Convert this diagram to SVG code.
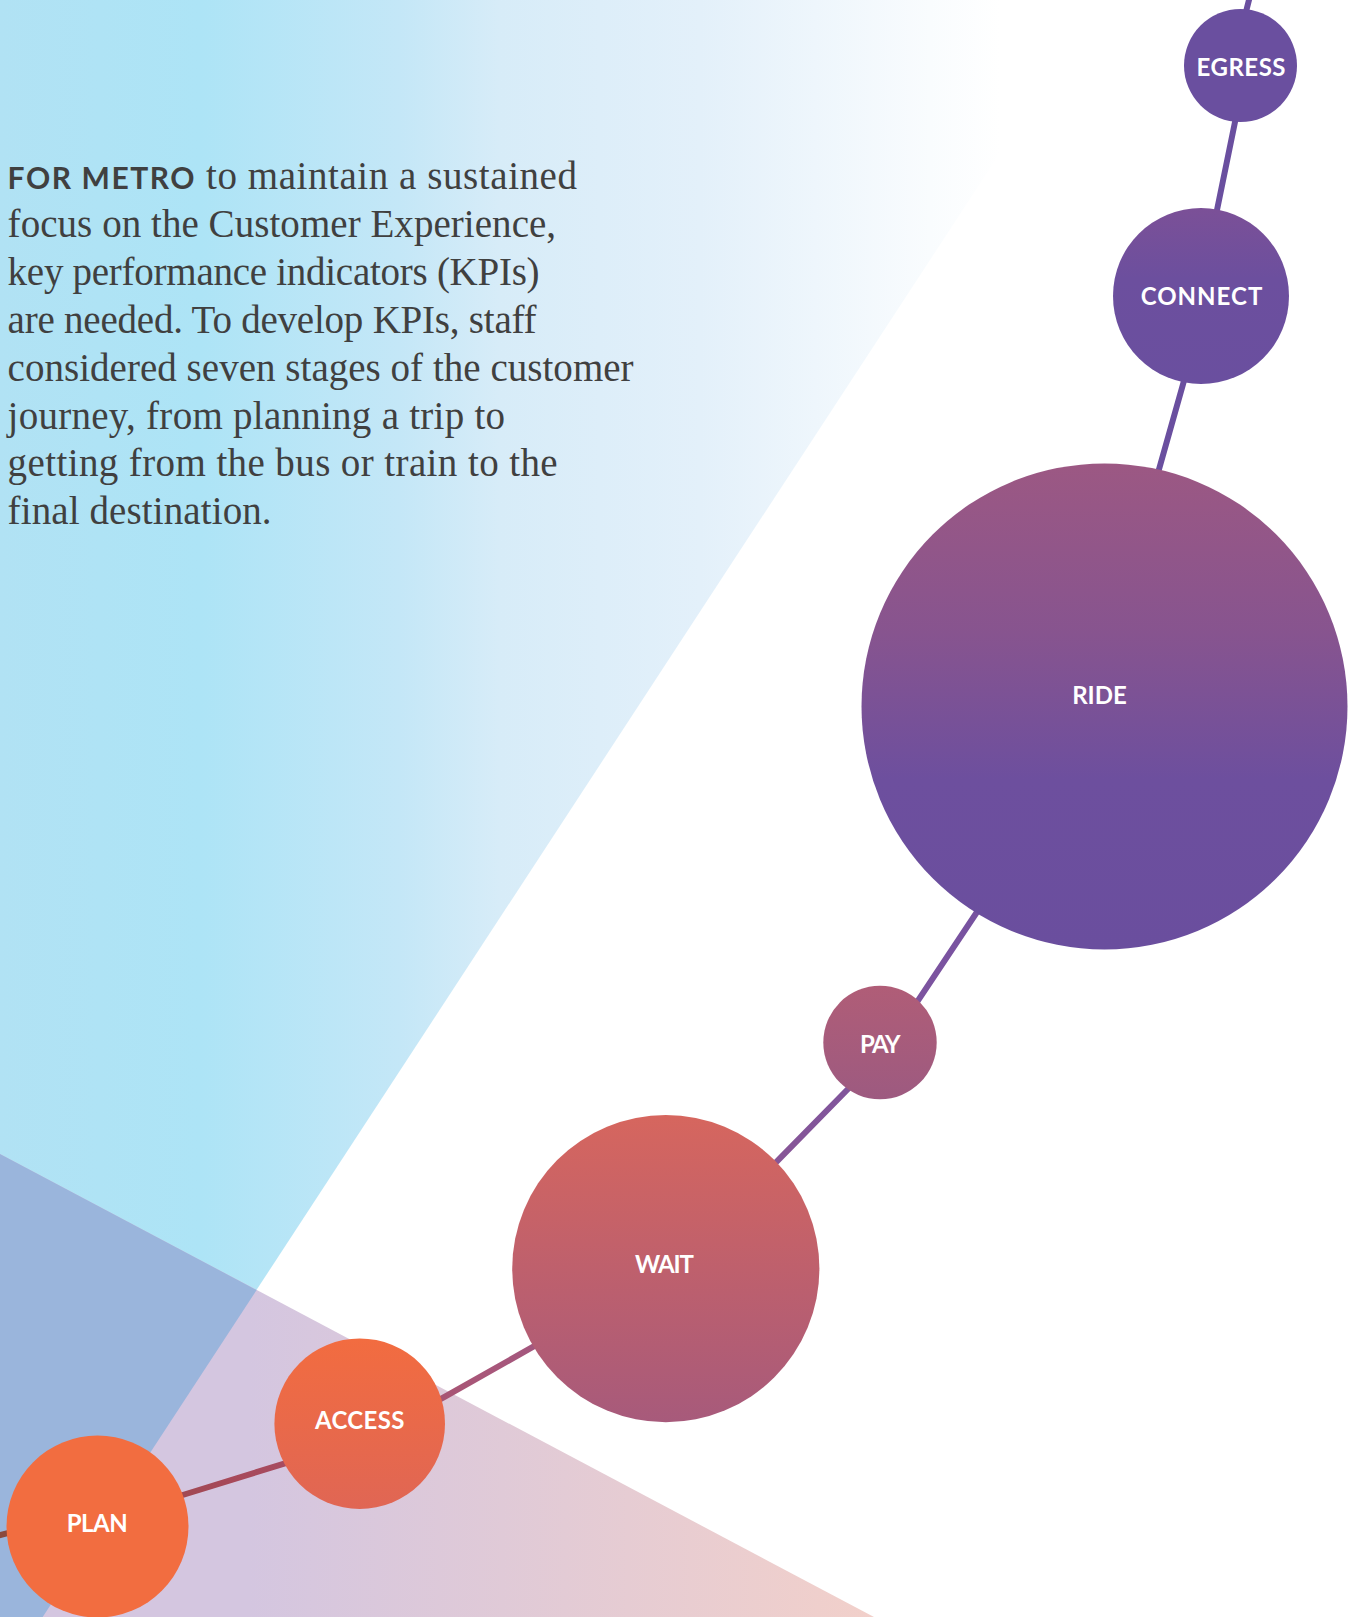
<svg xmlns="http://www.w3.org/2000/svg" width="1355" height="1617" viewBox="0 0 1355 1617">
<defs>
<linearGradient id="gBlue" gradientUnits="userSpaceOnUse" x1="0" y1="0" x2="1000" y2="0">
<stop offset="0" stop-color="#b1e2f4"/>
<stop offset="0.2" stop-color="#ade4f6"/>
<stop offset="0.4" stop-color="#c4e7f7"/>
<stop offset="0.5" stop-color="#d7ecf8"/>
<stop offset="0.7" stop-color="#e3f0fa"/>
<stop offset="0.93" stop-color="#f9fcfe"/>
<stop offset="1" stop-color="#ffffff"/>
</linearGradient>
<linearGradient id="gPink" gradientUnits="userSpaceOnUse" x1="250" y1="0" x2="880" y2="0">
<stop offset="0" stop-color="#d4c6e0"/>
<stop offset="1" stop-color="#f2d0ca"/>
</linearGradient>
<linearGradient id="gLine" gradientUnits="userSpaceOnUse" x1="0" y1="1535" x2="1250" y2="0">
<stop offset="0" stop-color="#8a493e"/>
<stop offset="0.095" stop-color="#a7495a"/>
<stop offset="0.22" stop-color="#a8577a"/>
<stop offset="0.42" stop-color="#83559a"/>
<stop offset="0.53" stop-color="#7a53a0"/>
<stop offset="0.65" stop-color="#6a4f9f"/>
<stop offset="1" stop-color="#6a4f9f"/>
</linearGradient>
<linearGradient id="gAccess" x1="0" y1="0" x2="0" y2="1">
<stop offset="0" stop-color="#f26c40"/>
<stop offset="1" stop-color="#e06654"/>
</linearGradient>
<linearGradient id="gWait" x1="0" y1="0" x2="0" y2="1">
<stop offset="0" stop-color="#d6665e"/>
<stop offset="1" stop-color="#a75a7b"/>
</linearGradient>
<linearGradient id="gPay" x1="0" y1="0" x2="0" y2="1">
<stop offset="0" stop-color="#b05d77"/>
<stop offset="1" stop-color="#9d5a80"/>
</linearGradient>
<linearGradient id="gRide" x1="0" y1="0" x2="0" y2="1">
<stop offset="0" stop-color="#9c5883"/>
<stop offset="0.35" stop-color="#87548f"/>
<stop offset="0.65" stop-color="#6d4f9e"/>
<stop offset="1" stop-color="#6a4e9e"/>
</linearGradient>
<linearGradient id="gConnect" x1="0" y1="0" x2="0" y2="1">
<stop offset="0" stop-color="#7b5097"/>
<stop offset="0.4" stop-color="#6c4f9e"/>
<stop offset="1" stop-color="#6a4f9f"/>
</linearGradient>
</defs>
<style>
.body { font-family: "Liberation Serif", "Times New Roman", serif; font-size: 39px; fill: #404040; }
.lead { font-family: Lato, "Liberation Sans", sans-serif; font-weight: bold; font-size: 30px; fill: #404040; }
.lbl { font-family: Lato, "Liberation Sans", sans-serif; font-weight: bold; font-size: 24px; fill: #ffffff; text-anchor: middle; }
.conn { fill: none; stroke: url(#gLine); stroke-width: 6; }
</style>
<rect x="0" y="0" width="1355" height="1617" fill="#ffffff"/>
<g id="background">
<polygon points="0,0 1100,0 42.7,1617 0,1617" fill="url(#gBlue)"/>
<polygon points="0,1154 874,1617 0,1617" fill="url(#gPink)"/>
<polygon points="0,1154 256.6,1290 42.7,1617 0,1617" fill="#9ab5dc"/>
</g>
<g id="intro">
<text class="lead" x="7.6" y="189" textLength="187">FOR METRO</text>
<text class="body" x="206" y="189" textLength="371">to maintain a sustained</text>
<text class="body" x="7.6" y="236.9" textLength="548.5">focus on the Customer Experience,</text>
<text class="body" x="7.6" y="284.8" textLength="532">key performance indicators (KPIs)</text>
<text class="body" x="7.6" y="332.7" textLength="529">are needed. To develop KPIs, staff</text>
<text class="body" x="7.6" y="380.6" textLength="626">considered seven stages of the customer</text>
<text class="body" x="7.6" y="428.5" textLength="497.5">journey, from planning a trip to</text>
<text class="body" x="7.6" y="476.4" textLength="550">getting from the bus or train to the</text>
<text class="body" x="7.6" y="524.3" textLength="264">final destination.</text>
</g>
<g id="connectors">
<path class="conn" d="M -6,1536.8 L 6.7,1533.3 C 64.9,1518.7 125.4,1512.8 182.7,1495 L 285,1463.3 C 340.2,1446.2 394.7,1425.2 445,1396.7 L 533.3,1346.7 C 622,1296.5 705.4,1234.5 776.7,1161.7 L 848,1089 C 874,1062.4 896.7,1032.7 917.3,1001.7 L 977,912 C 1065.6,779 1115.8,622.1 1159.3,468.3 L 1183.3,383.3 C 1199.3,326.7 1205.2,267.6 1217,210 L 1235,122 C 1242.6,84.9 1237.3,45.7 1246.7,9 L 1251,-8"/>
</g>
<g id="node-plan">
<circle cx="97.5" cy="1526.5" r="91" fill="#f26d40"/>
<text class="lbl" x="97.2" y="1531.7" textLength="61">PLAN</text>
</g>
<g id="node-access">
<circle cx="359.7" cy="1423.7" r="85.3" fill="url(#gAccess)"/>
<text class="lbl" x="359.7" y="1429.3" textLength="89.3">ACCESS</text>
</g>
<g id="node-wait">
<circle cx="665.8" cy="1268.7" r="153.6" fill="url(#gWait)"/>
<text class="lbl" x="664.5" y="1272.7" textLength="59">WAIT</text>
</g>
<g id="node-pay">
<circle cx="880" cy="1042.5" r="56.7" fill="url(#gPay)"/>
<text class="lbl" x="880.3" y="1053.3" textLength="40.7">PAY</text>
</g>
<g id="node-ride">
<circle cx="1104.5" cy="706.4" r="243" fill="url(#gRide)"/>
<text class="lbl" x="1099.5" y="704.4" textLength="54.7">RIDE</text>
</g>
<g id="node-connect">
<circle cx="1201" cy="296" r="88" fill="url(#gConnect)"/>
<text class="lbl" x="1201.5" y="305" textLength="121.7">CONNECT</text>
</g>
<g id="node-egress">
<circle cx="1240.5" cy="65.5" r="56.5" fill="#6a4f9f"/>
<text class="lbl" x="1241" y="76" textLength="89">EGRESS</text>
</g>
</svg>
